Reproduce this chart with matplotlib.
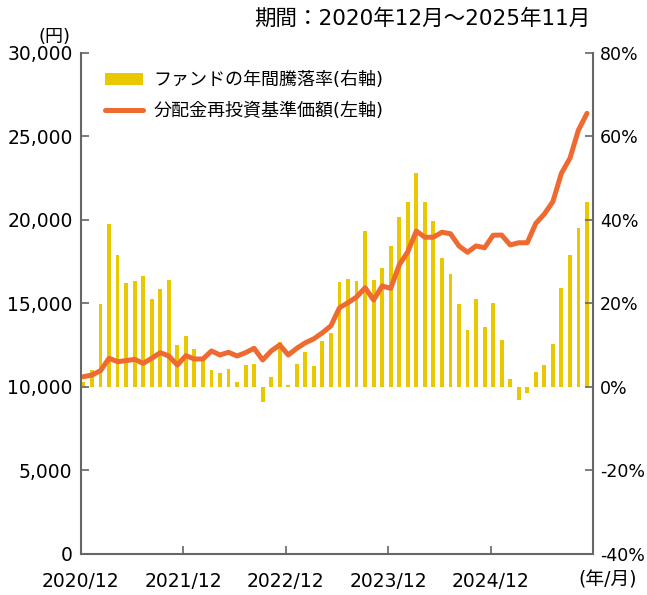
import matplotlib
matplotlib.use("Agg")
import matplotlib.pyplot as plt
from matplotlib.ticker import FuncFormatter
import numpy as np

plt.rcParams['font.family'] = ['DejaVu Sans', 'Noto Sans CJK JP']

# monthly data, 2020/12 .. 2025/11
nav = [10600, 10700, 10960, 11700, 11500, 11560, 11640, 11400, 11700, 12040,
       11840, 11300, 11860, 11660, 11660, 12140, 11900, 12060, 11840, 12040,
       12300, 11600, 12140, 12500, 11900, 12300, 12630, 12870, 13230, 13650,
       14730, 15030, 15370, 15930, 15190, 16030, 15890, 17290, 18080, 19320,
       18950, 18950, 19250, 19160, 18430, 18050, 18430, 18320, 19070, 19080,
       18490, 18620, 18620, 19780, 20340, 21080, 22780, 23680, 25370, 26370]

ret = [1.2, 4.0, 19.9, 39.0, 31.5, 24.8, 25.4, 26.4, 21.1, 23.4,
       25.6, 10.0, 12.2, 9.0, 6.5, 3.9, 3.3, 4.3, 1.2, 5.3,
       5.5, -3.7, 2.4, 10.7, 0.3, 5.5, 8.2, 5.0, 11.0, 12.9,
       25.1, 25.9, 25.4, 37.3, 25.6, 28.4, 33.8, 40.6, 44.3, 51.1,
       44.2, 39.8, 30.8, 26.9, 19.9, 13.6, 21.0, 14.3, 20.1, 11.1,
       1.9, -3.2, -1.4, 3.5, 5.2, 10.3, 23.6, 31.5, 38.1, 44.2]

xlabels = ["2020/12", "2021/12", "2022/12", "2023/12", "2024/12"]

bar_color = "#E9C800"
line_color = "#EE6A30"
spine_color = "#666666"

x = np.arange(len(nav)) + 0.3

fig = plt.figure(figsize=(6.47, 5.95), dpi=100)
ax = fig.add_axes([0.125, 0.0694, 0.7915, 0.842])
ax2 = ax.twinx()

bars = ax2.bar(x, ret, width=0.45, color=bar_color, label="ファンドの年間騰落率(右軸)")
line, = ax.plot(x, nav, color=line_color, linewidth=3.6, solid_capstyle='round',
                label="分配金再投資基準価額(左軸)")

# line above bars
ax.set_zorder(ax2.get_zorder() + 1)
ax.patch.set_visible(False)

ax.set_xlim(0, 60)
ax.set_ylim(0, 30000)
ax2.set_ylim(-40, 80)
ax.set_yticks(range(0, 30001, 5000))
ax2.set_yticks(range(-40, 81, 20))
ax.yaxis.set_major_formatter(FuncFormatter(lambda v, p: f"{int(v):,}"))
ax2.yaxis.set_major_formatter(FuncFormatter(lambda v, p: f"{int(v)}%"))
ax.set_xticks([0, 12, 24, 36, 48, 60])
ax.set_xticklabels(xlabels + [""])

for a in (ax, ax2):
    a.spines['top'].set_visible(False)
    for s in ('left', 'right', 'bottom'):
        a.spines[s].set_color(spine_color)
        a.spines[s].set_linewidth(1.5)
    a.tick_params(direction='in', length=6, width=1.2, color=spine_color,
                  labelsize=13.5, pad=6)
ax.spines['right'].set_visible(False)
ax2.spines['left'].set_visible(False)
ax2.spines['bottom'].set_visible(False)
ax.tick_params(axis='x', pad=13)
ax2.tick_params(axis='y', labelsize=12.5, pad=5)

fig.text(0.912, 0.969, "期間：2020年12月～2025年11月", ha='right', va='center', fontsize=15.5)
fig.text(0.085, 0.937, "(円)", ha='center', va='center', fontsize=13)
fig.text(0.939, 0.026, "(年/月)", ha='center', va='center', fontsize=13.5)

ax.legend([bars, line], [bars.get_label(), line.get_label()],
          loc='upper left', bbox_to_anchor=(0.015, 0.995), frameon=False,
          fontsize=13, handlelength=2.1, labelspacing=0.7, handletextpad=0.6)

fig.savefig("out.png", dpi=100)
